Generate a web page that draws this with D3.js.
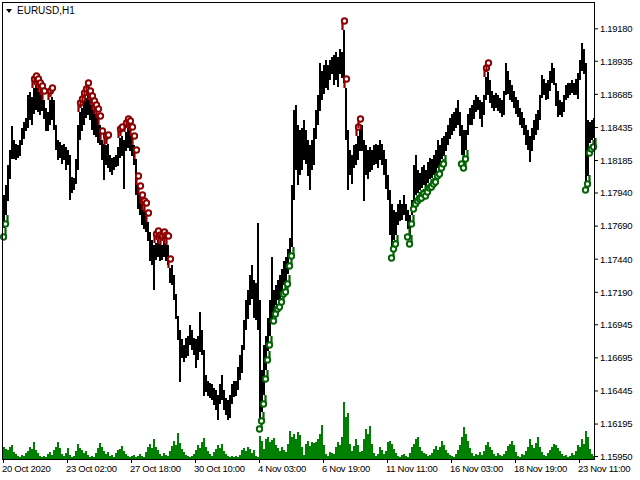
<!DOCTYPE html>
<html><head><meta charset="utf-8">
<script src="https://cdn.jsdelivr.net/npm/d3@7"></script>
<style>html,body{margin:0;padding:0;background:#fff;} svg{display:block;}</style>
</head><body>
<svg id="chart" width="640" height="480"></svg>
<script>
const symbolTitle = "EURUSD,H1";
const hoursPerEntry = 2;
const hiPrices = [
1.1792,1.1800,1.1815,1.1826,1.1844,1.1834,1.1831,1.1830,1.1834,1.1843,
1.1847,1.1850,1.1868,1.1870,1.1866,1.1873,1.1875,1.1873,1.1870,1.1868,
1.1864,1.1858,1.1855,1.1864,1.1866,1.1864,1.1845,1.1834,1.1832,1.1830,
1.1831,1.1828,1.1826,1.1822,1.1806,1.1805,1.1819,1.1845,1.1855,1.1858,
1.1862,1.1865,1.1870,1.1864,1.1860,1.1856,1.1853,1.1850,1.1845,1.1834,
1.1831,1.1830,1.1831,1.1822,1.1820,1.1821,1.1822,1.1828,1.1835,1.1837,
1.1834,1.1840,1.1843,1.1841,1.1837,1.1830,1.1819,1.1800,1.1792,1.1785,
1.1781,1.1779,1.1772,1.1764,1.1758,1.1754,1.1756,1.1758,1.1755,1.1754,
1.1757,1.1755,1.1754,1.1737,1.1739,1.1732,1.1717,1.1701,1.1690,1.1683,
1.1679,1.1684,1.1686,1.1694,1.1690,1.1684,1.1683,1.1686,1.1704,1.1690,
1.1675,1.1656,1.1652,1.1650,1.1649,1.1646,1.1645,1.1641,1.1649,1.1656,
1.1645,1.1639,1.1637,1.1641,1.1649,1.1652,1.1652,1.1662,1.1671,1.1679,
1.1698,1.1713,1.1720,1.1732,1.1739,1.1728,1.1726,1.1771,1.1713,1.1660,
1.1679,1.1686,1.1699,1.1713,1.1745,1.1720,1.1724,1.1728,1.1732,1.1736,
1.1742,1.1745,1.1751,1.1760,1.1800,1.1856,1.1860,1.1845,1.1841,1.1843,
1.1849,1.1841,1.1834,1.1830,1.1834,1.1843,1.1856,1.1868,1.1892,1.1886,
1.1890,1.1894,1.1890,1.1894,1.1896,1.1898,1.1900,1.1896,1.1902,1.1900,
1.1917,1.1873,1.1841,1.1826,1.1822,1.1830,1.1831,1.1837,1.1843,1.1845,
1.1834,1.1830,1.1826,1.1828,1.1826,1.1830,1.1831,1.1830,1.1834,1.1831,
1.1826,1.1819,1.1807,1.1796,1.1785,1.1781,1.1779,1.1785,1.1788,1.1785,
1.1792,1.1785,1.1781,1.1777,1.1788,1.1815,1.1822,1.1811,1.1809,1.1813,
1.1815,1.1811,1.1817,1.1820,1.1819,1.1822,1.1826,1.1834,1.1830,1.1835,
1.1837,1.1840,1.1845,1.1850,1.1853,1.1855,1.1858,1.1864,1.1855,1.1845,
1.1841,1.1841,1.1853,1.1858,1.1860,1.1864,1.1868,1.1866,1.1864,1.1862,
1.1868,1.1881,1.1885,1.1879,1.1871,1.1868,1.1869,1.1868,1.1865,1.1864,
1.1871,1.1892,1.1886,1.1879,1.1875,1.1871,1.1866,1.1864,1.1858,1.1855,
1.1850,1.1845,1.1841,1.1837,1.1843,1.1849,1.1853,1.1856,1.1868,1.1883,
1.1880,1.1877,1.1879,1.1886,1.1892,1.1888,1.1877,1.1871,1.1864,1.1862,
1.1868,1.1875,1.1877,1.1877,1.1879,1.1877,1.1880,1.1884,1.1894,1.1907,
1.1902,1.1892,1.1849,1.1847,1.1849,1.1850];
const loPrices = [
1.1767,1.1777,1.1788,1.1804,1.1819,1.1820,1.1819,1.1820,1.1822,1.1830,
1.1834,1.1840,1.1843,1.1849,1.1845,1.1853,1.1856,1.1855,1.1853,1.1856,
1.1850,1.1841,1.1841,1.1845,1.1849,1.1841,1.1826,1.1819,1.1820,1.1816,
1.1819,1.1811,1.1815,1.1788,1.1794,1.1796,1.1800,1.1811,1.1834,1.1841,
1.1845,1.1850,1.1853,1.1849,1.1841,1.1837,1.1836,1.1831,1.1830,1.1819,
1.1804,1.1815,1.1813,1.1809,1.1807,1.1811,1.1813,1.1814,1.1820,1.1822,
1.1797,1.1826,1.1828,1.1825,1.1822,1.1815,1.1792,1.1782,1.1777,1.1769,
1.1767,1.1764,1.1758,1.1742,1.1739,1.1720,1.1743,1.1745,1.1742,1.1743,
1.1745,1.1742,1.1739,1.1726,1.1724,1.1713,1.1698,1.1683,1.1651,1.1669,
1.1666,1.1669,1.1671,1.1679,1.1675,1.1671,1.1661,1.1668,1.1674,1.1671,
1.1640,1.1643,1.1641,1.1639,1.1637,1.1633,1.1630,1.1622,1.1634,1.1637,
1.1630,1.1626,1.1622,1.1624,1.1634,1.1640,1.1641,1.1645,1.1652,1.1658,
1.1675,1.1690,1.1698,1.1709,1.1713,1.1699,1.1698,1.1690,1.1622,1.1628,
1.1641,1.1660,1.1674,1.1686,1.1699,1.1704,1.1709,1.1713,1.1714,1.1718,
1.1724,1.1726,1.1732,1.1745,1.1753,1.1788,1.1811,1.1800,1.1807,1.1811,
1.1819,1.1815,1.1807,1.1796,1.1811,1.1815,1.1834,1.1845,1.1856,1.1864,
1.1868,1.1873,1.1871,1.1879,1.1883,1.1875,1.1879,1.1873,1.1883,1.1880,
1.1877,1.1834,1.1796,1.1807,1.1800,1.1813,1.1815,1.1819,1.1826,1.1825,
1.1788,1.1807,1.1804,1.1809,1.1811,1.1815,1.1816,1.1813,1.1819,1.1815,
1.1807,1.1796,1.1788,1.1762,1.1751,1.1758,1.1762,1.1769,1.1772,1.1773,
1.1777,1.1772,1.1767,1.1762,1.1777,1.1788,1.1792,1.1794,1.1796,1.1797,
1.1800,1.1798,1.1801,1.1804,1.1805,1.1807,1.1809,1.1813,1.1815,1.1819,
1.1822,1.1826,1.1830,1.1834,1.1837,1.1841,1.1843,1.1845,1.1837,1.1822,
1.1819,1.1826,1.1837,1.1845,1.1845,1.1850,1.1855,1.1856,1.1850,1.1843,
1.1853,1.1864,1.1868,1.1862,1.1858,1.1856,1.1858,1.1856,1.1854,1.1851,
1.1853,1.1868,1.1869,1.1864,1.1862,1.1858,1.1853,1.1851,1.1845,1.1843,
1.1837,1.1830,1.1826,1.1817,1.1826,1.1834,1.1837,1.1841,1.1849,1.1866,
1.1868,1.1864,1.1865,1.1871,1.1877,1.1875,1.1860,1.1851,1.1853,1.1851,
1.1855,1.1864,1.1866,1.1868,1.1869,1.1868,1.1868,1.1864,1.1879,1.1886,
1.1883,1.1803,1.1807,1.1831,1.1834,1.1835];
const volumes = [
1800,1500,1350,1800,2100,1050,750,450,300,600,
450,900,1200,1800,1500,2550,1350,900,450,300,
450,300,750,1050,600,1350,1800,2550,1650,750,
450,900,1650,600,300,450,1200,2250,1650,1350,
900,1200,600,300,450,300,900,1650,2400,1800,
1200,750,1050,450,600,300,900,1350,1500,1950,
1200,750,450,300,450,600,300,450,750,450,
300,1050,1800,2250,1650,3000,1800,1350,750,450,
900,600,450,1200,1950,2700,2100,3900,2400,1500,
1050,600,450,300,450,750,1350,2100,1650,2550,
3150,1800,1200,750,450,1050,1500,2100,1650,2250,
1200,750,450,300,450,300,450,300,600,1350,
1650,1200,1800,1500,900,1350,450,300,3450,2700,
1500,3000,3300,2550,2850,3150,2100,1650,1200,1800,
1350,1050,2250,4200,3300,3750,3000,4050,3600,1800,
600,2250,2700,1950,2550,2400,2550,3000,3750,5100,
2100,750,450,1050,900,750,1800,2550,2100,3300,
8550,6300,6900,2250,1200,1950,3000,2100,1050,1200,
3000,4500,3750,4950,2250,900,450,750,1800,1350,
750,1200,2550,2700,2250,1500,900,450,300,600,
750,450,300,900,1800,2250,3000,3300,1800,1200,
900,750,450,600,900,1500,1950,1350,1800,2700,
2100,1350,900,600,450,300,750,1350,2100,3300,
4800,3750,2700,1650,900,450,750,600,1050,600,
1200,2100,2550,1800,1350,750,450,900,600,450,
750,1200,1950,2250,2700,2100,1050,450,300,750,
600,1200,1800,3000,2100,1650,2400,3300,1800,1050,
600,450,900,1350,1800,2250,2100,1650,1200,750,
450,600,300,450,900,600,1200,2100,1800,3000,
2250,4200,3300,1500,750,450];
const redMarks = [15,16,17,18,19,20,23,24,38,39,40,41,42,43,44,45,46,47,48,49,51,52,
  58,59,61,62,63,64,65,66,67,68,69,70,71,72,76,77,78,79,80,81,82,83,170,171,177,178,241,242];
const greenMarks = [0,1,128,129,130,131,132,133,135,136,137,138,139,140,141,142,143,144,
  194,195,196,202,203,204,205,206,207,208,209,210,211,212,213,214,215,216,217,218,219,220,
  229,230,231,291,292,293,294,295];
const priceTicks = [1.19180,1.18935,1.18685,1.18435,1.18185,1.17940,1.17690,1.17440,1.17190,1.16945,1.16695,1.16445,1.16195,1.15950];
const timeTickIdx = [0,64,128,192,256,320,384,448,512,576];
const timeTickLabels = ["20 Oct 2020","23 Oct 02:00","27 Oct 18:00","30 Oct 10:00","4 Nov 03:00","6 Nov 19:00","11 Nov 11:00","16 Nov 03:00","18 Nov 19:00","23 Nov 11:00"];

const FONT = "'Liberation Sans', Arial, sans-serif";
const svg = d3.select("#chart");
svg.append("rect").attr("width",640).attr("height",480).attr("fill","#fff");

const x = d3.scaleLinear().domain([0, 592]).range([3, 595]);
const y = d3.scaleLinear().domain([1.1595, 1.1918]).range([456, 28.3]);
const yVol = d3.scaleLinear().domain([0, 9000]).range([459, 399]);

const n = Math.min(hiPrices.length, loPrices.length);
const entries = d3.range(n);

// volumes
svg.append("g").selectAll("rect").data(volumes).join("rect")
  .attr("x", (d,i) => x(i*hoursPerEntry))
  .attr("width", (d,i) => x((i+1)*hoursPerEntry) - x(i*hoursPerEntry))
  .attr("y", d => Math.round(yVol(d)))
  .attr("height", d => 459 - Math.round(yVol(d)))
  .attr("fill", "#008000");

// price bars
svg.append("g").selectAll("rect").data(entries).join("rect")
  .attr("x", i => x(i*hoursPerEntry))
  .attr("width", i => x((i+1)*hoursPerEntry) - x(i*hoursPerEntry))
  .attr("y", i => Math.round(y(hiPrices[i])))
  .attr("height", i => Math.max(1, Math.round(y(loPrices[i]) - y(hiPrices[i]))))
  .attr("fill", "#000");

// markers
const mk = svg.append("g");
redMarks.forEach(i => {
  const cx = x(i*hoursPerEntry) + 1, yy = Math.round(y(hiPrices[i]));
  mk.append("line").attr("x1", cx-1.5).attr("x2", cx-1.5).attr("y1", yy).attr("y2", yy-8)
    .attr("stroke", "#8b0000").attr("stroke-width", 2.2);
  mk.append("circle").attr("cx", cx+0.5).attr("cy", yy-9).attr("r", 2.7)
    .attr("fill", "#fff").attr("stroke", "#8b0000").attr("stroke-width", 1.9);
});
greenMarks.forEach(i => {
  const cx = x(i*hoursPerEntry) + 1, yy = Math.round(y(loPrices[i]));
  mk.append("line").attr("x1", cx+1.5).attr("x2", cx+1.5).attr("y1", yy).attr("y2", yy+8)
    .attr("stroke", "#006400").attr("stroke-width", 2.2);
  mk.append("circle").attr("cx", cx-0.5).attr("cy", yy+9).attr("r", 2.7)
    .attr("fill", "#fff").attr("stroke", "#006400").attr("stroke-width", 1.9);
});

// frame
svg.append("rect").attr("x", 2.5).attr("y", 2.5).attr("width", 592).attr("height", 457)
  .attr("fill", "none").attr("stroke", "#000").attr("stroke-width", 1);

// price axis
const ya = svg.append("g").attr("transform", "translate(594,0)")
  .call(d3.axisRight(y).tickValues(priceTicks).tickFormat(d3.format(".5f")).tickSize(4).tickPadding(2));
ya.select(".domain").remove();
ya.selectAll("line").attr("stroke", "#000");
ya.selectAll("text").attr("font-family", FONT).attr("font-size", 9.5)
  .attr("letter-spacing", "-0.3px").attr("fill", "#000").attr("dy", "0.35em");

// time axis
const xa = svg.append("g").attr("transform", "translate(0,459)")
  .call(d3.axisBottom(x).tickValues(timeTickIdx).tickFormat((d,i) => timeTickLabels[i]).tickSize(4));
xa.select(".domain").remove();
xa.selectAll("line").attr("stroke", "#000");
xa.selectAll("text").attr("font-family", FONT).attr("font-size", 9.5)
  .attr("letter-spacing", "-0.3px").attr("fill", "#000")
  .attr("text-anchor", "start").attr("x", -1.5).attr("y", 13).attr("dy", 0);

// title
svg.append("path").attr("d", "M6,9 L12,9 L9,13 Z").attr("fill", "#000");
svg.append("text").attr("x", 17).attr("y", 14).attr("font-family", FONT).attr("font-size", 10)
  .attr("fill", "#000").text(symbolTitle);
</script>
</body></html>
